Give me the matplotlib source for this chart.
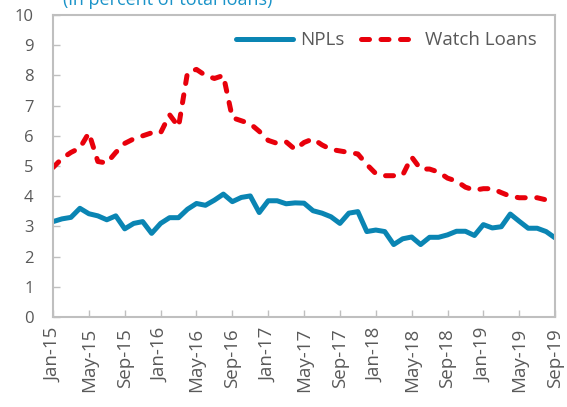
import matplotlib
matplotlib.use("Agg")
import matplotlib.pyplot as plt
import matplotlib.transforms as mtransforms
import numpy as np
import pandas as pd

plt.rcParams['font.family'] = ['Open Sans', 'DejaVu Sans']

months = pd.date_range("2015-01-01", "2019-09-01", freq="MS")
npls = [3.16, 3.25, 3.30, 3.60, 3.42, 3.35, 3.22, 3.35, 2.92, 3.10,
        3.16, 2.77, 3.10, 3.29, 3.29, 3.57, 3.76, 3.70, 3.87, 4.07,
        3.82, 3.96, 4.01, 3.46, 3.85, 3.85, 3.75, 3.78, 3.77, 3.52,
        3.44, 3.32, 3.10, 3.44, 3.49, 2.83, 2.88, 2.83, 2.40, 2.59,
        2.65, 2.40, 2.64, 2.64, 2.72, 2.84, 2.84, 2.70, 3.06, 2.95,
        2.99, 3.41, 3.17, 2.94, 2.94, 2.83, 2.62]
watch_loans = [4.95, 5.25, 5.45, 5.60, 6.10, 5.15, 5.10, 5.45, 5.75, 5.90,
               6.00, 6.10, 6.10, 6.70, 6.30, 8.10, 8.20, 8.00, 7.90, 8.00,
               6.60, 6.50, 6.40, 6.15, 5.85, 5.75, 5.80, 5.55, 5.78, 5.90,
               5.70, 5.55, 5.50, 5.45, 5.40, 5.05, 4.75, 4.68, 4.68, 4.70,
               5.30, 4.90, 4.90, 4.80, 4.60, 4.50, 4.30, 4.20, 4.25, 4.25,
               4.12, 4.00, 3.95, 3.95, 3.95, 3.88, np.nan]
tick_labels = [d.strftime("%b-%y") for d in months[::4]]

blue = '#0A85B3'
red = '#E8000B'
grey = '#595959'

fig = plt.figure(figsize=(5.67, 4.07), dpi=100)
ax = fig.add_axes([0.0935, 0.2211, 0.8855, 0.7419])

x = np.arange(len(months))
ax.plot(x, npls, color=blue, lw=3.6, solid_capstyle='round',
        solid_joinstyle='round', label='NPLs')
ax.plot(x, watch_loans, color=red, lw=3.6, dashes=(1.6, 2.3),
        dash_capstyle='round', label='Watch Loans')

ax.set_xlim(0, len(months) - 1)
ax.set_ylim(0, 10)
ax.set_yticks(range(0, 11))
ax.set_xticks(x[::4])
ax.set_xticklabels(tick_labels, rotation=90)
offset = mtransforms.ScaledTranslation(6 / 100, 0, fig.dpi_scale_trans)
for lbl in ax.get_xticklabels():
    lbl.set_transform(lbl.get_transform() + offset)

ax.tick_params(axis='both', direction='in', length=5, width=1, color='#BFBFBF',
               labelsize=12, labelcolor=grey)
ax.tick_params(axis='x', labelsize=13.5, pad=8)
ax.tick_params(axis='y', pad=14)
for s in ax.spines.values():
    s.set_color('#BFBFBF')
    s.set_linewidth(1.5)

leg = ax.legend(loc='upper right', bbox_to_anchor=(0.99, 0.99), ncol=2,
                frameon=False, fontsize=13.5, handlelength=3.0,
                handletextpad=0.4, columnspacing=0.9, borderaxespad=0.3)
for t in leg.get_texts():
    t.set_color(grey)

fig.text(0.111, 1.0, '(in percent of total loans)', color='#1A93C8',
         fontsize=13, ha='left', va='center')

fig.savefig('out.png', dpi=100)
